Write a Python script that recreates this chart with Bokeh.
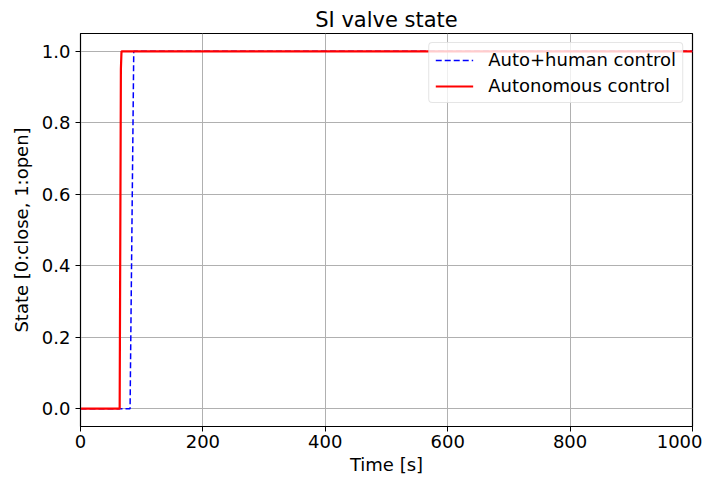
from bokeh.plotting import figure
from bokeh.models import Range1d, NumeralTickFormatter, FixedTicker, Legend, LegendItem
from bokeh.embed import file_html
from bokeh.resources import INLINE

# Data
auto_human_t = [0, 81, 87, 1000]
auto_human_v = [0, 0, 1, 1]
autonomous_t = [0, 64, 66, 67, 1000]
autonomous_v = [0, 0, 0.95, 1, 1]
x_ticks = [0, 200, 400, 600, 800, 1000]
y_ticks = [0.0, 0.2, 0.4, 0.6, 0.8, 1.0]

FONT = "DejaVu Sans"

p = figure(width=702, height=479, output_backend="svg", toolbar_location=None,
           x_range=Range1d(0, 1000), y_range=Range1d(-0.05, 1.05),
           min_border_left=80, min_border_right=10, min_border_top=33, min_border_bottom=53)
p.title.text = "SI valve state"
p.title.align = "center"
p.title.text_font = FONT
p.title.text_font_size = "21px"
p.title.text_font_style = "normal"
p.title.text_color = "black"
p.title.standoff = 4

p.outline_line_color = "black"
p.outline_line_width = 1.2
p.outline_line_alpha = 1

for ax in (p.xaxis[0], p.yaxis[0]):
    ax.major_label_text_font = FONT
    ax.major_label_text_font_size = "18px"
    ax.major_label_text_color = "black"
    ax.axis_label_text_font = FONT
    ax.axis_label_text_font_size = "18px"
    ax.axis_label_text_font_style = "normal"
    ax.axis_label_text_color = "black"
    ax.minor_tick_line_color = None
    ax.major_tick_out = 5
    ax.major_tick_in = 0
    ax.axis_line_color = "black"
    ax.major_tick_line_color = "black"

p.xaxis[0].ticker = FixedTicker(ticks=x_ticks)
p.yaxis[0].ticker = FixedTicker(ticks=y_ticks)
p.yaxis[0].formatter = NumeralTickFormatter(format="0.0")
p.xaxis[0].axis_label = "Time [s]"
p.yaxis[0].axis_label = "State [0:close, 1:open]"
p.xaxis[0].major_label_standoff = 3
p.xaxis[0].axis_label_standoff = 3
p.yaxis[0].major_label_standoff = 5
p.yaxis[0].axis_label_standoff = 7

p.xgrid.grid_line_color = "#b0b0b0"
p.ygrid.grid_line_color = "#b0b0b0"
p.xgrid.ticker = FixedTicker(ticks=x_ticks)
p.ygrid.ticker = FixedTicker(ticks=y_ticks)

r_blue = p.line(auto_human_t, auto_human_v, line_color="blue", line_width=1.5, line_dash="6 3")
r_red = p.line(autonomous_t, autonomous_v, line_color="red", line_width=2.2)

legend = Legend(items=[LegendItem(label="Auto+human control", renderers=[r_blue]),
                       LegendItem(label="Autonomous control", renderers=[r_red])],
                location="top_right")
legend.label_text_font = FONT
legend.label_text_font_size = "18px"
legend.label_text_color = "black"
legend.glyph_width = 38
legend.glyph_height = 20
legend.label_standoff = 15
legend.spacing = 5
legend.padding = 6
legend.margin = 9
legend.border_line_color = "#cccccc"
legend.border_radius = 4
legend.background_fill_alpha = 0.8
p.add_layout(legend)

open("out.html", "w").write(file_html(p, INLINE))
